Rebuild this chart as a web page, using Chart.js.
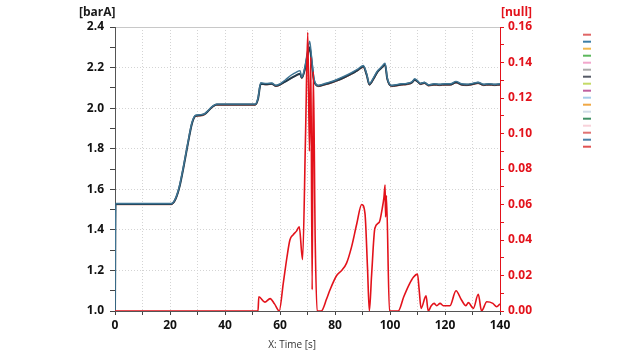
<!DOCTYPE html>
<html>
<head>
<meta charset="utf-8">
<script src="https://cdn.jsdelivr.net/npm/chart.js@4"></script>
<style>
  html, body { margin: 0; padding: 0; background: #fff; }
  #wrap { width: 640px; height: 360px; }
</style>
</head>
<body>
<div id="wrap"><canvas id="grafico" width="640" height="360"></canvas></div>
<script>
// pressure curves [barA], sampled at tiempos
const tiempos = [0, 0.2, 20.5, 22, 23.5, 25, 26.5, 28, 29.3, 31, 32.5, 34, 35.5, 37, 51, 52, 53, 55, 57, 58.5,
  60, 62, 64, 66, 67.3, 67.9, 69, 70, 70.8, 71.5, 72.3, 73, 74, 76, 78, 80.5, 83, 86, 88.5, 90.3,
  91.5, 92.5, 94, 95.5, 97, 98.2, 99, 100.6, 102, 104, 106, 108, 109, 110, 111, 112.5, 114, 116, 118, 120,
  122, 124, 126, 128, 130, 132, 134, 136, 138, 140];

const presionA = [1.0, 1.53, 1.53, 1.555, 1.62, 1.72, 1.83, 1.93, 1.965, 1.968, 1.972, 1.99, 2.01, 2.02, 2.02, 2.05, 2.125, 2.122, 2.124, 2.112,
  2.12, 2.14, 2.162, 2.178, 2.185, 2.153, 2.2, 2.28, 2.33, 2.25, 2.15, 2.12, 2.112, 2.12, 2.128, 2.14, 2.155, 2.175, 2.195, 2.21,
  2.17, 2.12, 2.15, 2.185, 2.205, 2.222, 2.15, 2.112, 2.115, 2.12, 2.122, 2.13, 2.145, 2.135, 2.122, 2.128, 2.115, 2.12, 2.118, 2.12,
  2.12, 2.132, 2.12, 2.118, 2.122, 2.128, 2.118, 2.12, 2.118, 2.12];

const presionB = [1.0, 1.528, 1.528, 1.552, 1.615, 1.715, 1.825, 1.925, 1.962, 1.965, 1.97, 1.988, 2.008, 2.018, 2.018, 2.045, 2.12, 2.118, 2.12, 2.11,
  2.116, 2.132, 2.148, 2.163, 2.17, 2.15, 2.19, 2.26, 2.3, 2.23, 2.14, 2.117, 2.11, 2.117, 2.124, 2.136, 2.15, 2.17, 2.19, 2.205,
  2.165, 2.117, 2.145, 2.18, 2.2, 2.215, 2.145, 2.11, 2.112, 2.117, 2.119, 2.127, 2.14, 2.132, 2.12, 2.125, 2.113, 2.117, 2.115, 2.117,
  2.117, 2.128, 2.117, 2.115, 2.119, 2.125, 2.115, 2.117, 2.115, 2.117];

const presionC = [1.0, 1.524, 1.524, 1.548, 1.612, 1.712, 1.822, 1.922, 1.958, 1.961, 1.966, 1.984, 2.004, 2.014, 2.014, 2.042, 2.117, 2.115, 2.117, 2.106,
  2.113, 2.13, 2.146, 2.16, 2.167, 2.146, 2.185, 2.255, 2.29, 2.22, 2.135, 2.113, 2.106, 2.113, 2.12, 2.132, 2.146, 2.166, 2.186, 2.2,
  2.16, 2.113, 2.14, 2.176, 2.196, 2.21, 2.14, 2.106, 2.108, 2.113, 2.115, 2.123, 2.136, 2.128, 2.116, 2.121, 2.109, 2.113, 2.111, 2.113,
  2.113, 2.124, 2.113, 2.111, 2.115, 2.121, 2.111, 2.113, 2.111, 2.113];

// differential curve [null], right axis
const tiemposDif = [0, 52, 52.3, 54.5, 56.4, 58, 59.7, 61.2, 62.5, 63.6, 64.8, 66, 67, 68.2, 69.3, 70.1, 70.7, 71.2, 71.7, 72.1,
  72.8, 73.5, 75, 77, 78.2, 80.6, 82.5, 84.2, 86, 87.9, 89.7, 90.9, 91.8, 92.5, 93.3, 94.5, 96.1, 97.2, 97.8, 98.2,
  98.4, 98.7, 99.8, 103, 105, 107, 108.5, 110, 110.6, 111.3, 113.1, 113.9, 115, 116, 117, 118.2, 119.4, 121.8, 124, 126,
  127.6, 128.5, 130.3, 132.1, 133.3, 135.2, 137.4, 138.8, 140];

const diferencial = [0, 0, 0.008, 0.005, 0.007, 0.004, 0, 0.0157, 0.03, 0.04, 0.043, 0.045, 0.0475, 0.029, 0.10, 0.157, 0.09, 0.143, 0.012, 0.135,
  0.04, 0, 0, 0.007, 0.012, 0.02, 0.023, 0.027, 0.036, 0.049, 0.06, 0.055, 0.025, 0, 0.02, 0.0466, 0.05, 0.058, 0.064, 0.071,
  0.053, 0.065, 0, 0, 0.008, 0.015, 0.019, 0.0208, 0.012, 0.0015, 0.0085, 0, 0.003, 0.0043, 0.003, 0.0043, 0.003, 0.003, 0.0114, 0.0062,
  0.003, 0.0047, 0.0015, 0.0094, 0, 0.0052, 0.0043, 0.0024, 0.004];

const coloresLeyenda = ["#e06666", "#3d7ea6", "#f2b84b", "#5cb85c", "#f2a7cc", "#aaaaaa", "#555a66", "#c4da66",
  "#c0609e", "#a6cdea", "#f0a845", "#d2dde9", "#3f9063", "#f8d2da", "#e07272", "#4a80a8", "#e05252"];

const ROJO = "#e3121b";

function puntos(xs, ys) {
  return xs.map((x, i) => ({ x, y: ys[i] }));
}

const textosEjes = {
  id: "textosEjes",
  afterDraw(chart) {
    const c = chart.ctx;
    c.save();
    c.textBaseline = "middle";
    c.textAlign = "left";
    c.font = "bold 12px 'Open Sans'";
    c.fillStyle = "#1a1a1a";
    c.fillText("[barA]", 79, 13);
    c.fillStyle = ROJO;
    c.fillText("[null]", 501, 13);
    c.font = "10px 'Open Sans'";
    c.fillStyle = "#333";
    c.textAlign = "right";
    c.fillText("X: Time [s]", 316, 345);
    c.restore();
  }
};

const ctx = document.getElementById("grafico").getContext("2d");

const grafico = new Chart(ctx, {
  type: "line",
  data: {
    datasets: [
      { label: "dif", data: puntos(tiemposDif, diferencial), yAxisID: "y1", borderColor: ROJO, borderWidth: 1.6 },
      { label: "pA", data: puntos(tiempos, presionA), yAxisID: "y", borderColor: "#3f7594", borderWidth: 1.4 },
      { label: "pB", data: puntos(tiempos, presionB), yAxisID: "y", borderColor: "#1f3a4c", borderWidth: 2 },
      { label: "pC", data: puntos(tiempos, presionC), yAxisID: "y", borderColor: "#b8452e", borderWidth: 1 }
    ]
  },
  options: {
    responsive: false,
    animation: false,
    parsing: false,
    elements: {
      point: { radius: 0 },
      line: { cubicInterpolationMode: "monotone", fill: false }
    },
    layout: { padding: { top: 27, right: 37, left: 0, bottom: 0 } },
    plugins: {
      tooltip: { enabled: false },
      legend: {
        position: "right",
        align: "start",
        title: { display: true, text: "", font: { size: 1 }, padding: { top: 1.5, bottom: 0 } },
        labels: {
          boxWidth: 8,
          boxHeight: 2,
          padding: 3,
          font: { size: 4 },
          generateLabels: () => coloresLeyenda.map((col, i) => ({
            text: "",
            fillStyle: col,
            strokeStyle: col,
            lineWidth: 0,
            hidden: false,
            datasetIndex: 0,
            index: i
          }))
        }
      }
    },
    scales: {
      x: {
        type: "linear",
        position: "bottom",
        min: 0,
        max: 140,
        afterFit: s => { s.height = 49; },
        ticks: {
          stepSize: 10,
          autoSkip: false,
          maxRotation: 0,
          padding: 3,
          color: "#111",
          font: { family: "'Open Sans'", size: 12, weight: "bold" },
          callback: v => (v % 20 === 0 ? v : "")
        },
        grid: {
          color: c => (c.tick && (c.tick.value === 0 || c.tick.value === 140) ? "rgba(0,0,0,0)" : "#d4d4d4"),
          tickColor: "#444",
          tickLength: 4
        },
        border: { color: "#555", width: 1, dash: [1, 2] }
      },
      xTop: {
        type: "linear",
        position: "top",
        min: 0,
        max: 140,
        afterFit: s => { s.height = 0; },
        ticks: { display: false },
        grid: { display: false },
        border: { color: "#c8c8c8", width: 1 }
      },
      y: {
        type: "linear",
        position: "left",
        min: 1.0,
        max: 2.4,
        afterFit: s => { s.width = 115; },
        ticks: {
          stepSize: 0.1,
          autoSkip: false,
          padding: 6,
          color: "#111",
          font: { family: "'Open Sans'", size: 12, weight: "bold" },
          callback: v => (Math.round(v * 10) % 2 === 0 ? v.toFixed(1) : "")
        },
        grid: {
          color: c => {
            if (!c.tick) return "rgba(0,0,0,0)";
            const k = Math.round(c.tick.value * 10);
            return (k % 2 === 0 && k !== 10 && k !== 24) ? "#d4d4d4" : "rgba(0,0,0,0)";
          },
          tickColor: "#444",
          tickLength: 5
        },
        border: { color: "#555", width: 1, dash: [1, 2] }
      },
      y1: {
        type: "linear",
        position: "right",
        min: 0,
        max: 0.16,
        afterFit: s => { s.width = 80; },
        ticks: {
          stepSize: 0.01,
          autoSkip: false,
          padding: 4,
          color: ROJO,
          font: { family: "'Open Sans'", size: 12, weight: "bold" },
          callback: v => (Math.round(v * 100) % 2 === 0 ? v.toFixed(2) : "")
        },
        grid: { drawOnChartArea: false, tickColor: ROJO, tickLength: 4 },
        border: { color: ROJO, width: 1 }
      }
    }
  },
  plugins: [textosEjes]
});
</script>
</body>
</html>
